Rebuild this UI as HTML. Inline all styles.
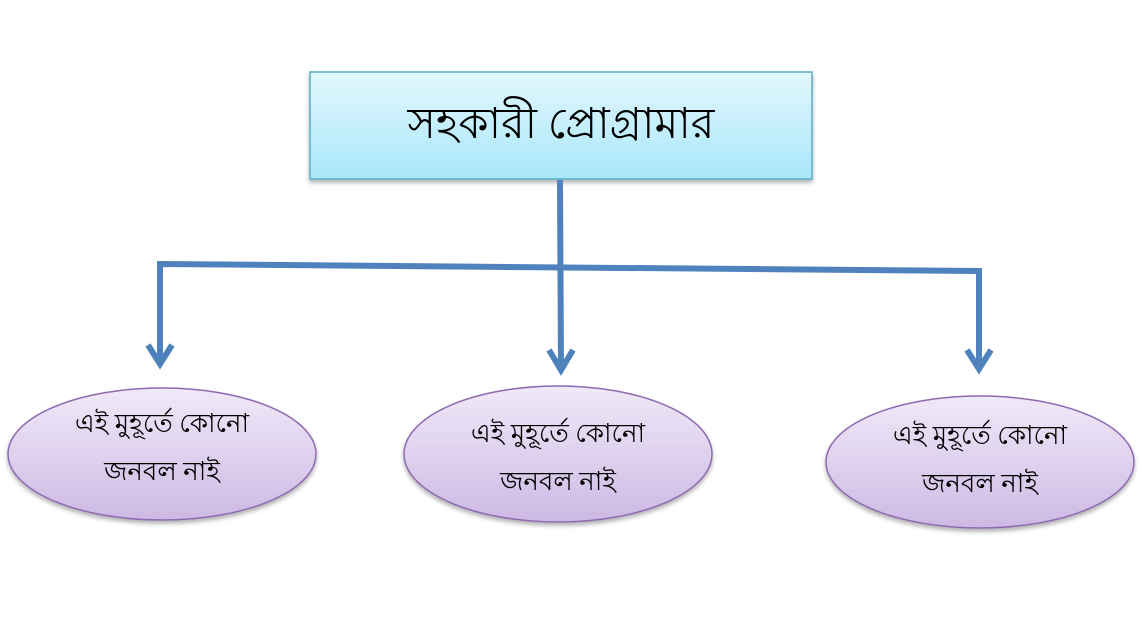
<!DOCTYPE html>
<html><head><meta charset="utf-8"><style>body{margin:0;background:#fff}svg{display:block}</style></head>
<body>
<svg width="1144" height="624" viewBox="0 0 1144 624" xmlns="http://www.w3.org/2000/svg">
<defs>
<linearGradient id="b" x1="0" y1="0" x2="0" y2="1"><stop offset="0" stop-color="#e2f7fd"/><stop offset="1" stop-color="#a9e7fa"/></linearGradient>
<linearGradient id="e" x1="0" y1="0" x2="0" y2="1"><stop offset="0" stop-color="#f0e9f8"/><stop offset="1" stop-color="#cdb9e4"/></linearGradient>
<filter id="s" x="-10%" y="-10%" width="120%" height="130%"><feDropShadow dx="0" dy="3" stdDeviation="2" flood-opacity="0.3"/></filter>
</defs>
<rect x="310" y="72" width="502" height="107" fill="url(#b)" stroke="#5aaec8" stroke-width="1.5" filter="url(#s)"/>
<text x="561" y="138" font-size="43" text-anchor="middle" font-family="'Liberation Serif',serif" fill="#000">সহকারী প্রোগ্রামার</text>
<g stroke="#4f81bd" stroke-width="6" fill="none" stroke-linejoin="miter">
<path d="M560 180 L561 370"/>
<path d="M160 365 L160 264 L979 271 L979 369"/>
<path d="M148 345 L160 364 L172 345"/>
<path d="M549 350 L561 370 L573 350"/>
<path d="M967 350 L979 369 L991 350"/>
</g>
<g stroke="#8e6bb0" stroke-width="1.5" fill="url(#e)" filter="url(#s)">
<ellipse cx="162" cy="454" rx="154" ry="66"/>
<ellipse cx="558" cy="454" rx="154" ry="68"/>
<ellipse cx="980" cy="462" rx="154" ry="66"/>
</g>
<g font-size="26" text-anchor="middle" font-family="'Liberation Serif',serif" fill="#000">
<text x="162" y="432">এই মুহূর্তে কোনো</text><text x="162" y="480">জনবল নাই</text>
<text x="558" y="442">এই মুহূর্তে কোনো</text><text x="558" y="490">জনবল নাই</text>
<text x="980" y="444">এই মুহূর্তে কোনো</text><text x="980" y="492">জনবল নাই</text>
</g>
</svg>
</body></html>
